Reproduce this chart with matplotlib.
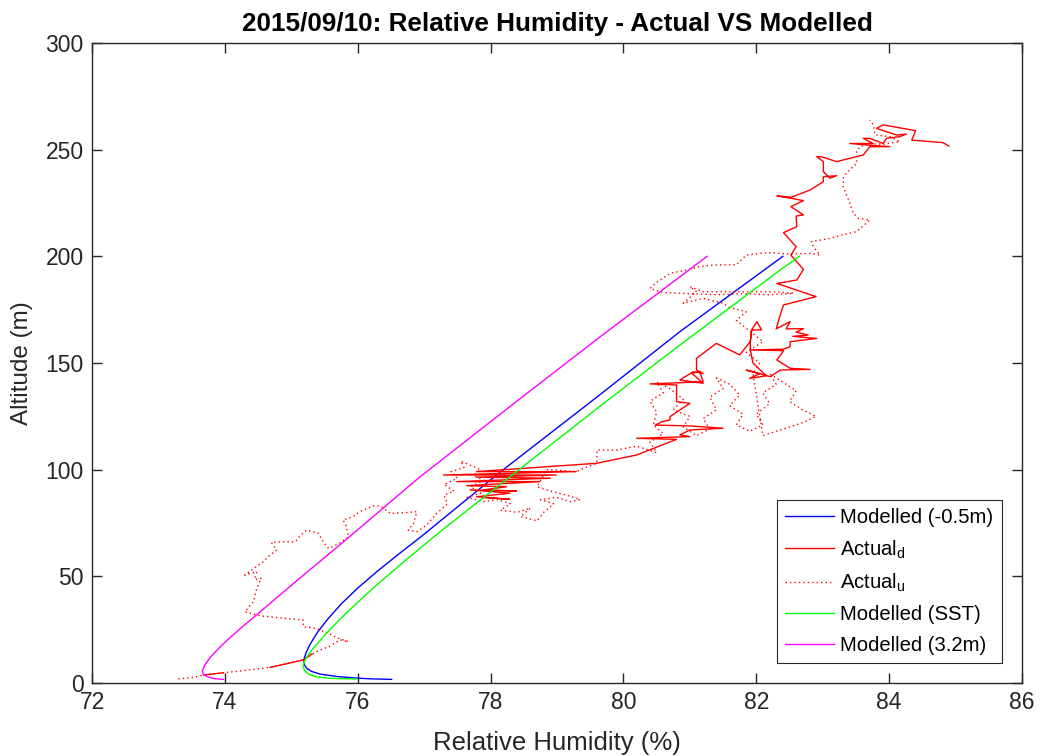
import numpy as np
import matplotlib
matplotlib.use('Agg')
import matplotlib.pyplot as plt

plt.rcParams['font.family'] = ['Liberation Sans', 'DejaVu Sans']
plt.rcParams['mathtext.fontset'] = 'custom'
plt.rcParams['mathtext.rm'] = 'Liberation Sans'
plt.rcParams['mathtext.it'] = 'Liberation Sans'

# ---------------- data ----------------
# Modelled (-0.5m)
mod_neg05_rh = [76.51, 76.25, 76.03, 75.70, 75.43, 75.30, 75.23, 75.19, 75.19, 75.22, 75.28,
                75.40, 75.55, 75.75, 76.00, 76.30, 76.62, 76.95, 78.15, 79.60, 80.85, 82.40]
mod_neg05_alt = [1.7, 1.9, 2.2, 3.0, 4.2, 5.5, 7.0, 9.0, 11.0, 14.0, 18.0,
                 24.0, 30.0, 37.0, 44.5, 52.5, 60.5, 68.5, 99.0, 134.0, 164.7, 200.0]

# Modelled (SST)
mod_sst_rh = [75.98, 75.75, 75.53, 75.36, 75.26, 75.20, 75.18, 75.19, 75.23, 75.31, 75.41,
              75.53, 75.72, 75.93, 76.18, 76.43, 76.70, 76.97, 77.24, 78.10, 79.70, 80.85,
              82.36, 82.65]
mod_sst_alt = [1.9, 2.0, 2.3, 3.0, 4.2, 5.8, 7.6, 9.5, 12.0, 15.5, 19.0,
               23.3, 29.5, 35.8, 43.0, 49.8, 57.0, 64.0, 70.9, 92.0, 131.0, 158.4,
               193.6, 200.0]

# Modelled (3.2m)
mod_32_rh = [73.98, 73.85, 73.75, 73.68, 73.66, 73.70, 73.78, 73.90, 74.05, 74.25, 74.50,
             74.80, 75.20, 75.76, 76.92, 78.42, 79.65, 81.26]
mod_32_alt = [1.7, 2.0, 2.8, 4.0, 5.5, 8.5, 12.0, 16.0, 20.5, 26.0, 32.5,
              40.5, 51.0, 65.5, 96.2, 132.7, 162.3, 200.0]

# Actual (descent) - solid
act_d_rh = [84.90, 84.81, 84.34, 84.40, 83.91, 83.81, 84.11, 84.26, 84.16, 83.96, 83.91, 83.71,
            83.61, 83.76, 83.41, 83.66, 84.01, 83.71, 83.61, 83.21, 82.98, 82.91, 83.01, 83.01,
            83.11, 83.21, 83.01, 83.01, 82.81, 82.53, 82.31, 82.53, 82.71, 82.52, 82.71, 82.60,
            82.61, 82.41, 82.60, 82.52, 82.71, 82.61, 82.31, 82.90, 82.41, 82.36, 82.30,
            82.51, 82.45, 82.71, 82.60, 82.78, 82.55, 82.91, 82.51, 82.51,
            82.41, 81.91, 82.41, 82.31, 82.51, 82.81, 82.36, 82.21, 81.85, 82.05, 81.90, 82.15,
            81.95, 81.91, 81.91, 81.93, 82.01, 82.08, 81.93, 81.91, 81.75, 81.40, 81.10, 81.10,
            81.20, 81.05, 80.85, 81.20, 81.03, 81.15, 81.20, 80.40, 80.80, 80.80, 81.00, 80.85,
            80.70, 80.70, 80.58, 80.48, 81.00, 81.50, 81.00, 80.85, 81.00, 80.20, 80.80, 80.20,
            79.60, 79.95, 79.60, 77.79, 79.29, 77.29, 78.99, 77.79, 78.90, 77.49, 78.74, 77.64,
            78.24, 77.89, 78.39, 77.69, 78.29, 77.79, 78.29, 77.90,
            np.nan, 73.68, 73.98, np.nan, 74.68, 75.18, 75.31]
act_d_alt = [251.7, 253.3, 254.5, 258.9, 261.6, 260.0, 256.9, 257.3, 256.1, 255.3, 252.9, 255.3,
             255.3, 252.9, 252.9, 252.2, 251.4, 251.4, 247.5, 244.4, 246.7, 246.7, 244.4, 239.7,
             236.6, 237.8, 237.3, 235.0, 231.1, 227.7, 228.3, 227.2, 226.1, 223.3, 219.4, 218.9,
             213.9, 211.1, 204.5, 200.6, 193.9, 188.9, 187.3, 181.1, 177.2, 172.5, 166.0,
             169.4, 166.0, 166.1, 164.5, 163.1, 162.5, 161.5, 160.0, 157.6,
             156.5, 156.1, 155.8, 151.4, 147.5, 147.0, 146.7, 143.6, 146.7, 145.0, 142.8, 144.0,
             150.0, 156.1, 160.0, 165.5, 169.4, 165.5, 165.5, 160.0, 153.8, 159.2, 152.2, 146.7,
             145.2, 145.9, 142.0, 140.5, 145.2, 145.9, 141.2, 140.2, 139.7, 131.9, 131.1, 128.0,
             124.8, 123.3, 122.5, 120.9, 120.5, 119.4, 118.6, 116.3, 115.5, 114.7, 114.2, 106.9,
             103.0, 105.3, 103.0, 99.1, 99.1, 97.5, 97.5, 96.5, 96.0, 94.4, 94.4, 92.5,
             92.0, 90.5, 90.0, 90.5, 89.0, 87.3, 86.1, 87.0,
             np.nan, 3.75, 4.8, np.nan, 7.3, 10.8, 13.6]

# Actual (ascent) - dotted
act_u_rh = [73.30, 73.52, 73.68, 73.98, 74.23, 74.68, 75.18, 75.38, 75.56, 75.73, 75.86, 75.70,
            75.61, 75.38, 75.18, 75.18, 75.08, 74.75, 74.55, 74.30, 74.43, 74.48, 74.55, 74.45,
            74.48, 74.30, 74.58, 74.68, 74.78, 74.70, 74.83, 75.06, 75.13, 75.23, 75.41, 75.48,
            75.56, 75.63, 75.76, 75.86, 75.83, 75.78, 75.93, 76.03, 76.23, 76.34, 76.49, 76.69,
            76.89, 76.84, 76.76, 76.89, 77.04, 77.19,
            77.35, 77.30, 77.45, 77.30, 77.50, 77.40, 77.60, 77.55, 77.70, 77.85, 77.75, 77.90,
            77.70, 77.85, 77.65, 77.90, 78.10, 78.30, 78.15, 78.40, 78.60, 78.45, 78.70, 78.80,
            78.95, 78.75, 79.00, 79.20, 79.35, 79.15, 78.90, 78.70, 78.84, 79.00, 79.29, 79.40,
            79.60, 79.60, 79.90,
            80.20, 80.50, 80.40, 80.60, 80.45, 80.50, 80.40, 80.60, 80.50, 80.70, 80.90, 80.75,
            81.00, 80.90, 81.10, 81.30, 81.20, 81.40, 81.30, 81.50, 81.40, 81.60, 81.75, 81.60,
            81.80, 81.70, 81.90, 82.10, 82.00, 82.20, 82.10, 82.30, 82.20, 82.40, 82.60, 82.50,
            82.70, 82.90, 82.70, 82.50, 82.30, 82.10, 81.95, 82.05, 81.85, 82.10, 81.90, 81.70,
            81.85, 81.60, 81.50, 81.20, 80.90, 81.10, 81.00, 81.20, 81.55, 81.91, 82.26, 82.56,
            82.20, 81.80, 81.40, 81.00, 80.60, 80.40, 80.48, 80.70, 80.95, 81.15, 81.40, 81.70,
            81.85, 82.06, 82.26, 82.46, 82.83, 82.96, 82.86, 82.83, 83.11, 83.29, 83.51, 83.71,
            83.54, 83.46, 83.39, 83.31, 83.31, 83.41, 83.51, 83.51, 83.56, 83.71, 83.91, 84.16,
            84.01, 83.79, 83.76, 83.71]
act_u_alt = [1.9, 2.6, 3.7, 4.8, 5.6, 7.3, 10.8, 14.7, 17.0, 20.2, 19.4, 21.0,
             22.5, 25.6, 26.4, 29.5, 29.8, 30.8, 31.4, 33.4, 38.1, 44.4, 49.1, 48.5,
             52.2, 50.6, 56.9, 60.0, 62.3, 65.8, 66.2, 66.2, 68.9, 71.7, 70.2, 66.2,
             63.1, 63.9, 66.2, 68.6, 73.3, 76.4, 78.0, 80.3, 83.0, 83.0, 79.5, 79.8,
             80.3, 74.8, 71.7, 70.9, 74.1, 79.5,
             84.0, 88.0, 90.0, 93.0, 96.0, 99.0, 101.0, 104.0, 102.0, 100.0, 97.0, 95.0,
             92.0, 89.0, 87.0, 85.0, 86.0, 84.0, 81.0, 80.0, 82.0, 78.0, 76.0, 80.0,
             84.0, 86.0, 87.0, 85.0, 86.0, 88.0, 90.0, 92.0, 100.0, 99.8, 99.0, 100.6,
             103.0, 109.2, 109.2,
             111.0, 108.0, 113.0, 117.0, 121.0, 127.0, 132.0, 136.0, 141.0, 138.0, 133.0, 128.0,
             125.0, 120.0, 116.0, 119.0, 124.0, 128.0, 134.0, 138.0, 143.0, 140.0, 135.0, 130.0,
             126.0, 121.0, 118.0, 121.0, 126.0, 131.0, 136.0, 140.0, 145.0, 141.0, 137.0, 132.0,
             128.0, 125.0, 122.0, 120.0, 118.0, 116.0, 145.0, 150.0, 155.0, 160.0, 165.0, 170.0,
             174.0, 176.0, 178.0, 180.3, 178.0, 183.4, 185.8, 183.4, 183.4, 183.4, 183.4, 182.7,
             182.0, 182.5, 182.0, 182.5, 183.0, 185.0, 187.3, 192.0, 193.6, 195.2, 196.0, 196.0,
             200.6, 201.4, 201.7, 201.1, 201.4, 200.6, 204.5, 206.9, 208.4, 210.0, 211.6, 217.0,
             217.8, 220.2, 226.4, 232.6, 237.3, 240.7, 243.5, 249.1, 251.4, 252.9, 252.5, 253.8,
             256.1, 256.9, 261.6, 263.9]

x_ticks = [72, 74, 76, 78, 80, 82, 84, 86]
y_ticks = [0, 50, 100, 150, 200, 250, 300]

# ---------------- plot ----------------
fig = plt.figure(figsize=(10.42, 7.56), dpi=100)
ax = fig.add_axes([92 / 1042, 1 - 683 / 756, 930 / 1042, 640 / 756])

ax.plot(mod_neg05_rh, mod_neg05_alt, color='#0000ff', lw=1.0, label='Modelled (-0.5m)')
ax.plot(act_d_rh, act_d_alt, color='#ff0000', lw=1.0, label='Actual$_{\\mathrm{d}}$')
ax.plot(act_u_rh, act_u_alt, color='#ff0000', lw=1.0, linestyle=(0, (1, 2.2)), label='Actual$_{\\mathrm{u}}$')
ax.plot(mod_sst_rh, mod_sst_alt, color='#00ff00', lw=1.0, label='Modelled (SST)')
ax.plot(mod_32_rh, mod_32_alt, color='#ff00ff', lw=1.0, label='Modelled (3.2m)')

ax.set_xlim(72, 86)
ax.set_ylim(0, 300)
ax.set_xticks(x_ticks)
ax.set_yticks(y_ticks)
dark = '#262626'
ax.tick_params(direction='in', top=True, right=True, length=7, width=1.0,
               labelsize=16.5, colors=dark, pad=6)
for s in ax.spines.values():
    s.set_color(dark)
    s.set_linewidth(1.0)

ax.set_xlabel('Relative Humidity (%)', fontsize=18.5, color=dark, labelpad=12)
ax.set_ylabel('Altitude (m)', fontsize=17.5, color=dark, labelpad=9)
ax.set_title('2015/09/10: Relative Humidity - Actual VS Modelled', fontsize=18.8,
             fontweight='bold', color='black', pad=9)

leg = ax.legend(loc='lower right', fontsize=14.6, frameon=True, fancybox=False,
                edgecolor='#262626', framealpha=1, handlelength=2.45, borderaxespad=1.0,
                labelspacing=0.55, handletextpad=0.3, borderpad=0.4)
leg.get_frame().set_linewidth(0.8)

fig.savefig('out.png', dpi=100)
